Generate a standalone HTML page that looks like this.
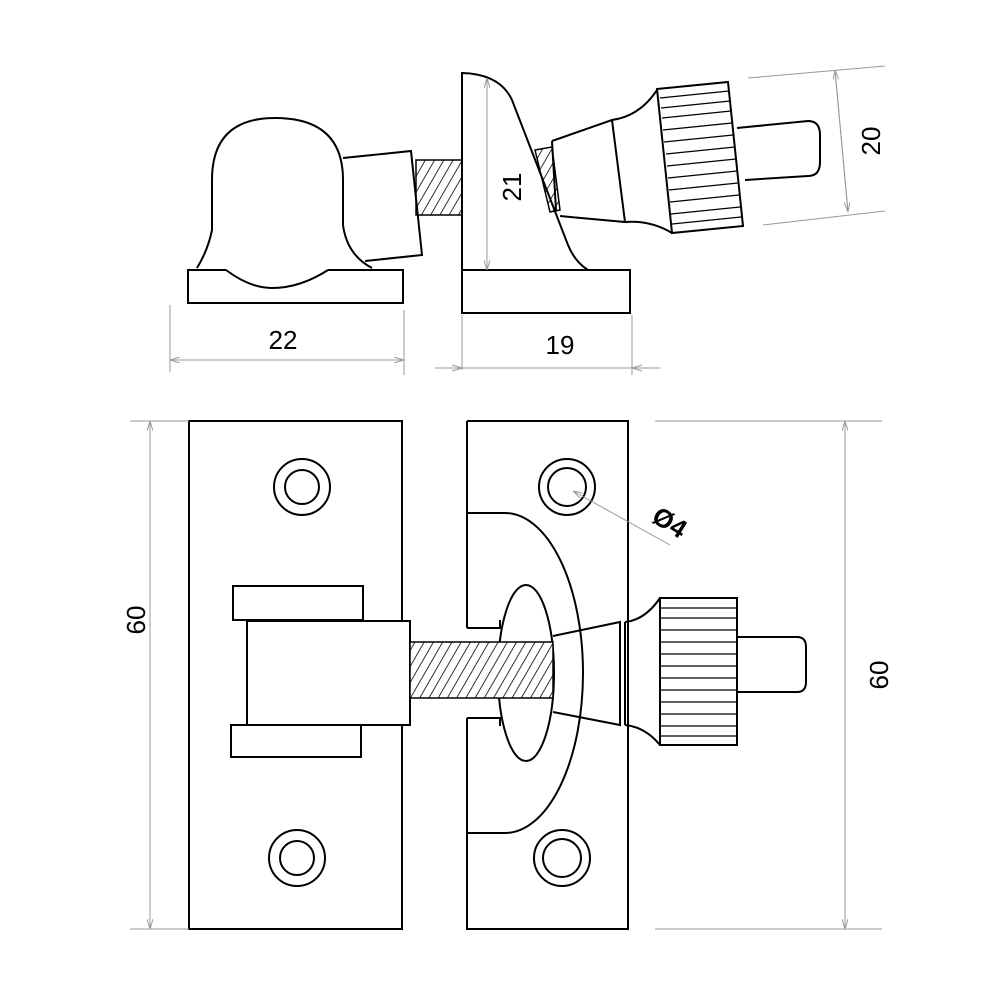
<!DOCTYPE html>
<html><head><meta charset="utf-8"><style>body{margin:0;background:#fff}svg{display:block}</style></head><body>
<svg width="1000" height="1000" viewBox="0 0 1000 1000" xmlns="http://www.w3.org/2000/svg" font-family="Liberation Sans, sans-serif">
<defs>
<pattern id="h" width="8" height="8" patternUnits="userSpaceOnUse" patternTransform="rotate(30)"><line x1="0" y1="0" x2="0" y2="8" stroke="#000" stroke-width="1.6"/></pattern>
<marker id="a" markerWidth="10" markerHeight="6" refX="10" refY="3" orient="auto"><path d="M0,0 L10,3 L0,6" fill="none" stroke="#999" stroke-width="1"/></marker>
</defs>
<g fill="none" stroke="#000" stroke-width="2">
<!-- TOP LEFT -->
<path d="M226,270 L188,270 L188,303 L403,303 L403,270 L328,270"/>
<path d="M197,268 Q208,250 212,230 L212,180 Q212,118 275,118 Q343,118 343,180 L343,225 Q347,255 372,268"/>
<path d="M226,270 Q250,288 272,288 Q300,288 328,270"/>
<path d="M343,158 L411,151 L422,255 L365,261"/>
<rect x="416" y="160" width="46" height="55" fill="url(#h)" stroke-width="1.5"/>
<!-- TOP RIGHT -->
<rect x="462" y="270" width="168" height="43"/>
<path d="M462,270 L462,73 Q500,74 512,100 L568,245 Q575,262 588,270"/>
<path d="M535,150 L552,147 L560,210 L550,212 Z" fill="url(#h)" stroke-width="1.5"/>
<path d="M552,141 L612,120 L625,222 L570,217 L560,216 M552,141 L556,210"/>
<path d="M612,120 Q640,116 657,90 M625,222 Q650,220 672,233"/>
<path d="M657,89 L728,82 L743,226 L672,233 Z"/>
<g stroke-width="1.3">
<path d="M660,98 L729,91 M661,108 L730,101 M662,118 L731,111 M663,130 L732,123 M664,142 L733,135 M666,154 L735,147 M667,166 L736,159 M668,178 L737,171 M669,190 L738,183 M670,202 L739,195 M671,214 L740,207 M672,224 L741,217"/>
</g>
<path d="M737,128 L808,121 Q820,121 820,135 L820,162 Q820,176 808,176 L745,180"/>
<!-- BOTTOM LEFT -->
<rect x="189" y="421" width="213" height="508"/>
<circle cx="302" cy="487" r="28"/><circle cx="302" cy="487" r="17"/>
<circle cx="297" cy="858" r="28"/><circle cx="297" cy="858" r="17"/>
<rect x="233" y="586" width="130" height="34" fill="#fff"/>
<rect x="231" y="725" width="130" height="32" fill="#fff"/>
<rect x="247" y="621" width="163" height="104" fill="#fff"/>
<!-- BOTTOM RIGHT -->
<path d="M467,421 L628,421 L628,929 L467,929 L467,718 M467,628 L467,421"/>
<circle cx="567" cy="487" r="28"/><circle cx="567" cy="487" r="19"/>
<circle cx="562" cy="858" r="28"/><circle cx="562" cy="858" r="19"/>
<path d="M467,513 L505,513 A78,160 0 0 1 505,833 L467,833"/>
<path d="M467,628 L500,628 L500,620 M467,718 L500,718 L500,726"/>
<ellipse cx="526" cy="673" rx="28" ry="88" fill="#fff"/>
<rect x="410" y="642" width="143" height="56" fill="#fff" stroke="none"/>
<rect x="410" y="642" width="143" height="56" fill="url(#h)" stroke-width="1.5"/>
<path d="M553,636 L620,622 L620,725 L553,712"/>
<path d="M625,622 L625,725"/>
<path d="M625,622 Q645,620 660,598 M625,725 Q645,727 660,745"/>
<rect x="660" y="598" width="77" height="147"/>
<g stroke-width="1.3"><path d="M660,608H737M660,618H737M660,630H737M660,642H737M660,654H737M660,666H737M660,678H737M660,690H737M660,702H737M660,714H737M660,726H737M660,736H737"/></g>
<path d="M737,637 L797,637 Q806,637 806,647 L806,682 Q806,692 797,692 L737,692"/>
</g>
<!-- DIMENSIONS -->
<g stroke="#999" stroke-width="1" fill="none">
<line x1="487" y1="270" x2="487" y2="78" marker-end="url(#a)"/><line x1="487" y1="78" x2="487" y2="270" marker-end="url(#a)"/>
<line x1="748" y1="78" x2="885" y2="66"/><line x1="763" y1="225" x2="885" y2="211"/>
<line x1="835" y1="70" x2="848" y2="212" marker-end="url(#a)"/><line x1="848" y1="212" x2="835" y2="70" marker-end="url(#a)"/>
<line x1="170" y1="305" x2="170" y2="372"/><line x1="404" y1="310" x2="404" y2="375"/>
<line x1="170" y1="360" x2="404" y2="360" marker-end="url(#a)"/><line x1="404" y1="360" x2="170" y2="360" marker-end="url(#a)"/>
<line x1="462" y1="315" x2="462" y2="370"/><line x1="632" y1="315" x2="632" y2="375"/>
<line x1="435" y1="368" x2="660" y2="368"/>
<path d="M462,368 l-10,-3 M462,368 l-10,3 M632,368 l10,-3 M632,368 l10,3"/>
<line x1="130" y1="421" x2="189" y2="421"/><line x1="130" y1="929" x2="189" y2="929"/>
<line x1="150" y1="421" x2="150" y2="929" marker-end="url(#a)"/><line x1="150" y1="929" x2="150" y2="421" marker-end="url(#a)"/>
<line x1="655" y1="421" x2="882" y2="421"/><line x1="655" y1="929" x2="882" y2="929"/>
<line x1="845" y1="421" x2="845" y2="929" marker-end="url(#a)"/><line x1="845" y1="929" x2="845" y2="421" marker-end="url(#a)"/>
<line x1="670" y1="545" x2="573" y2="491" marker-end="url(#a)"/>
</g>
<g font-size="26" fill="#000" text-anchor="middle">
<text x="283" y="349">22</text>
<text x="560" y="354">19</text>
<text transform="translate(521,187) rotate(-90)">21</text>
<text transform="translate(880,141) rotate(-90)">20</text>
<text transform="translate(145,620) rotate(-90)">60</text>
<text transform="translate(888,675) rotate(-90)">60</text>
<text transform="translate(665,530) rotate(32)" font-weight="bold">Ø4</text>
</g>
</svg>
</body></html>
